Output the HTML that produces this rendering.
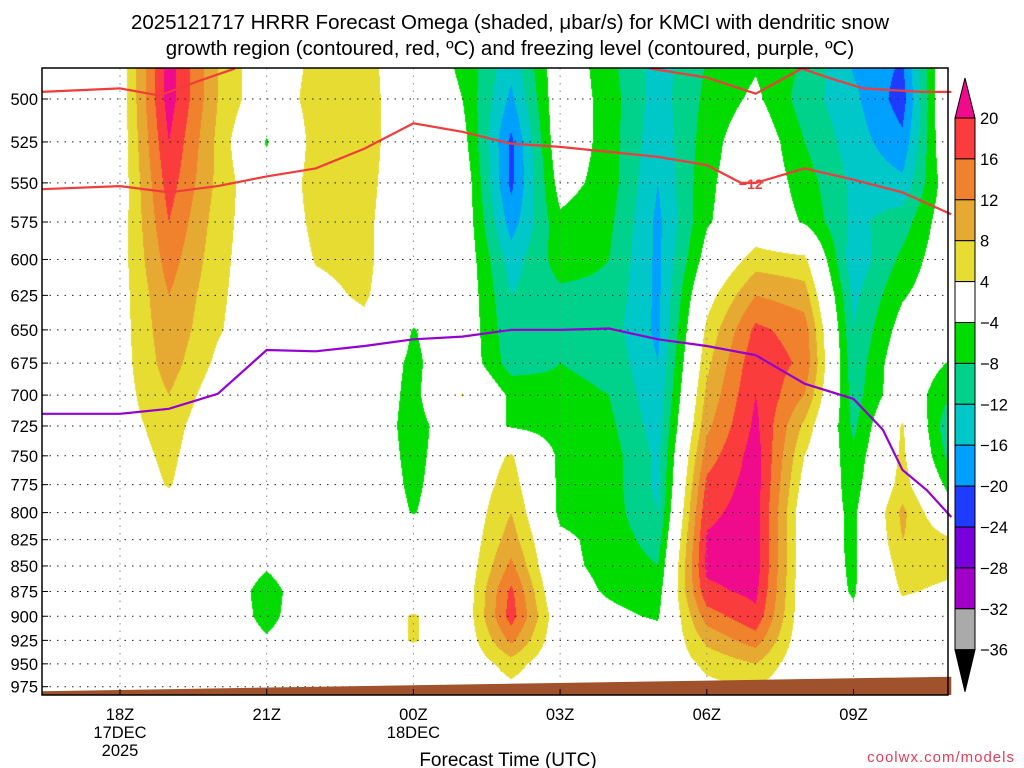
<!DOCTYPE html>
<html><head><meta charset="utf-8"><style>
html,body{margin:0;padding:0;background:#fff;}
#wrap{position:relative;width:1024px;height:768px;overflow:hidden;font-family:"Liberation Sans",sans-serif;}
canvas{position:absolute;left:0;top:0;}
svg{position:absolute;left:0;top:0;}
</style></head><body>
<div id="wrap">
<canvas id="field" width="1024" height="768"></canvas>
<svg id="svg" width="1024" height="768">
<text x="510" y="29" font-size="20.5" text-anchor="middle" fill="#000">2025121717 HRRR Forecast Omega (shaded, μbar/s) for KMCI with dendritic snow</text>
<text x="510" y="55" font-size="20.5" text-anchor="middle" fill="#000">growth region (contoured, red, ºC) and freezing level (contoured, purple, ºC)</text>
<text x="508" y="766" font-size="19" text-anchor="middle">Forecast Time (UTC)</text>
<text x="1015" y="762" font-size="15" text-anchor="end" fill="#e0405a" letter-spacing="1">coolwx.com/models</text>
<g id="grid"></g>
<g id="lines"></g>
<g id="axes"></g>
<g id="cbar"></g>
</svg>
</div>
<script>
// hours since 18Z; pressure levels (hPa)
const hours=[-2,-1,0,1,2,3,4,5,6,7,8,9,10,11,12,13,14,15,16,17];
const levels=[475,500,525,550,575,600,625,650,675,700,725,750,775,800,825,850,875,900,925,950,975];
// omega (microbar/s), one row per hour, values per level
const omega=[
[0,0,0,0,0,0,0,0,0,0,0,0,0,0,0,0,0,0,0,0,0],
[1,1,1,1,1,1,1,1,1,1,1,1,1,1,1,1,1,1,1,1,1],
[1,1,1,1,1.5,2,2,2,2,2,2,1.5,1,0,0,0,0,0,0,0,0],
[22,22,20,18,16,14,12,11,10,8,6,5,4.3,2,0,0,0,0,0,0,0],
[8,8,7,7,6,5.5,5,4.5,3,1,0,0,0,0,0,0,0,0,0,0,0],
[0,0,-4.5,-1,0,0,0,0,0,0,0,0,0,0,0,-3.5,-6,-5.5,-3.5,0,0],
[5,6,6,6,5,4.2,3,2,0,0,0,0,0,0,0,0,0,0,0,0,0],
[6,6,6,5.5,5,5,4.5,3,0,0,0,0,0,0,0,0,0,0,0,0,0],
[-1,0,0,0,0,0,0,-4.3,-5,-5.5,-6,-5.5,-5,-4.3,0,0,0,4.5,4.5,0,0],
[-5,-4,-2,0,0,0,0,0,0,4.3,0,0,0,0,0,0,0,0,0,0,0],
[-14,-17,-21,-21,-18,-14,-12,-11,-10,-5,-4.5,4.5,6,8,10,13,17,18,13,6,3],
[0,0,0,-2,-5,-6,-9,-9,-8,-7,-6,-5,-5,-5,-3,-3,-2,0,0,0,0],
[-7,-6,-6,-6,-7,-8,-9,-10,-9,-8,-7,-6,-6,-6,-5.5,-5,-4.5,-3,0,0,0],
[-14,-14,-15,-16,-17,-17,-17,-17,-16,-15,-14,-13,-13,-12,-10,-8,-6,-4.5,-2,0,0],
[-8,-7,-6,-5,-4.5,-2,2,5,7,9,11,14,17,19,20.5,21,19,14,9,5,3],
[-5,-3,0,0,0,6,12,17,19,20,21,22,22,22,22,22,21,19,14,8,4],
[-8,-10,-8,-6,-4.5,5,10,14,15,12,7,4,2,0,0,0,0,0,0,0,0],
[-17,-15,-14,-13,-13,-15,-13,-12,-11,-10,-9,-7,-6,-5,-5,-4.8,-4.5,-3,0,0,0],
[-20,-22,-19,-15,-10,-7,-4.5,-2,0,0,4.5,5,6,9,8,6,4.5,2,0,0,0],
[4.5,5,3,0,0,0,0,0,-4.5,-8,-12,-10,-6,-2,4.5,5,3,0,0,0,0]
];
// -12C isotherm (main) : hours and pressure
const iso12Hours=[-1.6,0,1,2,3,4,5,6,7,8,9,10,11,12,12.7,13,14,15,16,17];
const iso12Pres=[554,552,556,552,546,541,529,514,519,526,528,531,534,539,550,550,541,548,556,570];
// upper -12C segments
const isoTopAHours=[-1.6,0,0.8,1.6,2.35];
const isoTopAPres=[496,494,498,490,483];
const isoTopBHours=[10.84,12,13,13.94,14.6,15.2,16.4,17];
const isoTopBPres=[483,488,497,483,489,494,496,496];
// freezing level (0C)
const frzHours=[-1.6,0,1,2,3,4,5,6,7,8,9,10,11,12,13,14,15,15.6,16,16.5,17];
const frzPres=[715,715,711,699,665,666,662,657,655,650,650,649,657,662,669,691,703,728,762,780,804];
// ground surface pressure
const gndHours=[-1.6,17];
const gndPres=[980,964];
const yTicks=[500,525,550,575,600,625,650,675,700,725,750,775,800,825,850,875,900,925,950,975];
const xTickHours=[0,3,6,9,12,15];
const xTickLabels=["18Z","21Z","00Z","03Z","06Z","09Z"];
const cbarValues=[20,16,12,8,4,-4,-8,-12,-16,-20,-24,-28,-32,-36];
const cbarColors=["#fa3c3c","#f0822d","#e6aa32","#e6dc32","#ffffff","#00dc00","#00d28c","#00c8c8","#00a0ff","#1e3cff","#7800dc","#a000c8","#aaaaaa"];

const X0=42,X1=948,Y0=68,Y1=695;
function xs(h){return 120+h*48.9;}
function hx(x){return (x-120)/48.9;}
function ys(p){return 99+880*Math.log(p/500);}
function py(y){return 500*Math.exp((y-99)/880);}
function colorFor(v){
  if(v>=20)return[240,10,140];
  const th=[16,12,8,4,-4,-8,-12,-16,-20,-24,-28,-32];
  const cols=[[250,60,60],[240,130,45],[230,170,50],[230,220,50],[255,255,255],[0,220,0],[0,210,140],[0,200,200],[0,160,255],[30,60,255],[120,0,220],[160,0,200]];
  for(let i=0;i<th.length;i++){if(v>=th[i])return cols[i];}
  return [170,170,170];
}
function val(h,p){
  let i=0;while(i<hours.length-2&&h>hours[i+1])i++;
  let fi=(h-hours[i])/(hours[i+1]-hours[i]);fi=Math.max(0,Math.min(1,fi));
  let j=0;while(j<levels.length-2&&p>levels[j+1])j++;
  let fj=(Math.log(p)-Math.log(levels[j]))/(Math.log(levels[j+1])-Math.log(levels[j]));fj=Math.max(0,Math.min(1,fj));
  const a=omega[i][j],b=omega[i][j+1],c=omega[i+1][j],d=omega[i+1][j+1];
  return (a*(1-fj)+b*fj)*(1-fi)+(c*(1-fj)+d*fj)*fi;
}
const ctx=document.getElementById('field').getContext('2d');
const img=ctx.createImageData(X1-X0,Y1-Y0);
for(let y=Y0;y<Y1;y++){const p=py(y+0.5);for(let x=X0;x<X1;x++){const c=colorFor(val(hx(x+0.5),p));const k=((y-Y0)*(X1-X0)+(x-X0))*4;img.data[k]=c[0];img.data[k+1]=c[1];img.data[k+2]=c[2];img.data[k+3]=255;}}
ctx.putImageData(img,X0,Y0);

const NS='http://www.w3.org/2000/svg';
function mk(tag,attrs,parent){const e=document.createElementNS(NS,tag);for(const k in attrs)e.setAttribute(k,attrs[k]);parent.appendChild(e);return e;}
const grid=document.getElementById('grid'),lines=document.getElementById('lines'),axes=document.getElementById('axes'),cbar=document.getElementById('cbar');
// ground
let gp='M'+xs(gndHours[0])+','+Y1;
gndHours.forEach((h,i)=>{gp+=' L'+xs(h)+','+ys(gndPres[i]);});
gp+=' L'+xs(gndHours[gndHours.length-1])+','+Y1+' Z';
const g=mk('path',{d:gp,fill:'#a0522d'},lines);


// grid lines
yTicks.forEach(p=>{const l=mk('line',{x1:X0,x2:X1,y1:ys(p),y2:ys(p),stroke:'#222','stroke-width':1,'stroke-dasharray':'1.5,6'},grid);


const t=mk('text',{x:38,y:ys(p)+6,'font-size':16.5,'text-anchor':'end'},axes);t.textContent=p;


mk('line',{x1:X0,x2:X0+6,y1:ys(p),y2:ys(p),stroke:'#000'},axes);});
xTickHours.forEach((h,i)=>{const l=mk('line',{x1:xs(h),x2:xs(h),y1:Y0,y2:Y1,stroke:'#888','stroke-width':1,'stroke-dasharray':'1.5,6'},grid);


const t=mk('text',{x:xs(h),y:720,'font-size':16.5,'text-anchor':'middle'},axes);t.textContent=xTickLabels[i];


mk('line',{x1:xs(h),x2:xs(h),y1:Y1,y2:Y1-6,stroke:'#000'},axes);});
[['17DEC',0,738],['2025',0,756],['18DEC',6,738]].forEach(a=>{const t=mk('text',{x:xs(a[1]),y:a[2],'font-size':16.5,'text-anchor':'middle'},axes);t.textContent=a[0];

});
// contour lines
function poly(hs,ps,color,name){let d='';hs.forEach((h,i)=>{d+=(i?' L':'M')+xs(h).toFixed(1)+','+ys(ps[i]).toFixed(1);});
const e=mk('path',{d:d,fill:'none',stroke:color,'stroke-width':2.2},lines);

}
poly(iso12Hours,iso12Pres,'#f03c3c','isotherm-minus12');
poly(isoTopAHours,isoTopAPres,'#f03c3c','isotherm-minus12-upper-a');
poly(isoTopBHours,isoTopBPres,'#f03c3c','isotherm-minus12-upper-b');
poly(frzHours,frzPres,'#9400d3','freezing-level');
const lb=mk('text',{x:xs(12.9),y:ys(550)+6,'font-size':14,'font-weight':'bold',fill:'#f03c3c','text-anchor':'middle'},lines);lb.textContent='−12';


// frame
const fr=mk('rect',{x:X0,y:Y0,width:X1-X0,height:Y1-Y0,fill:'none',stroke:'#000','stroke-width':1.5},axes);


// colorbar
const CX=955,CW=20,CT=118,CS=40.9;
cbarColors.forEach((c,i)=>{const r=mk('rect',{x:CX,y:CT+i*CS,width:CW,height:CS,fill:c,stroke:'#000','stroke-width':1},cbar);

});
const tu=mk('polygon',{points:`${CX},${CT} ${CX+CW},${CT} ${CX+CW/2},${CT-40}`,fill:'#f00a8c',stroke:'#000'},cbar);


const CB=CT+cbarColors.length*CS;
const td=mk('polygon',{points:`${CX},${CB} ${CX+CW},${CB} ${CX+CW/2},${CB+42}`,fill:'#000',stroke:'#000'},cbar);


cbarValues.forEach((v,i)=>{const t=mk('text',{x:980,y:CT+i*CS+6,'font-size':16.5},cbar);t.textContent=(v<0?'−':'')+Math.abs(v);

});
</script>
</body></html>
